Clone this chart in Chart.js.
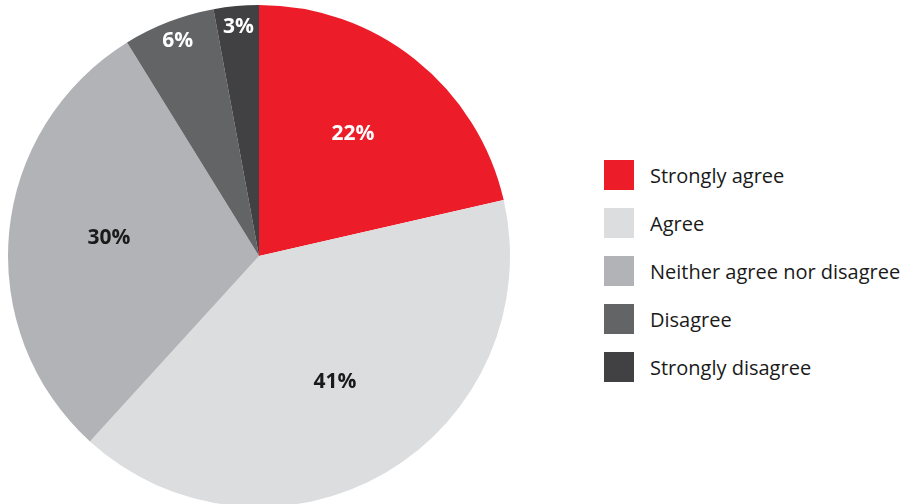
<!DOCTYPE html>
<html>
<head>
<meta charset="utf-8">
<script src="https://cdn.jsdelivr.net/npm/chart.js@4.4.0/dist/chart.umd.min.js"></script>
<style>
    html, body { margin: 0; padding: 0; background: #fff; overflow: hidden; }
    #wrap { position: relative; width: 906px; height: 504px; }
    #pieBox { position: absolute; left: 0; top: 0; width: 520px; height: 512px; }
    #legend { position: absolute; left: 604px; top: 160px; font-family: "Open Sans", sans-serif; font-size: 20px; color: #1a1a1a; }
    .item { display: flex; align-items: center; height: 30px; margin-bottom: 18px; white-space: nowrap; }
    .swatch { width: 30px; height: 30px; margin-right: 16px; flex: none; }
</style>
</head>
<body>
<div id="wrap">
    <div id="pieBox"><canvas id="pieChart"></canvas></div>
    <div id="legend"></div>
</div>
<script>
const categories = ['Strongly agree', 'Agree', 'Neither agree nor disagree', 'Disagree', 'Strongly disagree'];
const shares = [21.4, 40.3, 29.4, 5.9, 2.9];
const shareLabels = ['22%', '41%', '30%', '6%', '3%'];
const sliceColors = ['#ed1c29', '#dcdddf', '#b1b3b6', '#636466', '#414042'];
const labelColors = ['#ffffff', '#1a1a1a', '#1a1a1a', '#ffffff', '#ffffff'];

// draw the percent labels inside the slices
const sliceLabels = {
    id: 'sliceLabels',
    afterDatasetsDraw(chart) {
        const ctx = chart.ctx;
        const arcs = chart.getDatasetMeta(0).data;
        ctx.save();
        ctx.font = 'bold 21px "Open Sans", sans-serif';
        ctx.textAlign = 'center';
        ctx.textBaseline = 'middle';
        arcs.forEach((arc, i) => {
            const mid = (arc.startAngle + arc.endAngle) / 2;
            const frac = shares[i] < 10 ? 0.9 : 0.6;
            const r = arc.outerRadius * frac;
            ctx.fillStyle = labelColors[i];
            ctx.fillText(shareLabels[i], arc.x + Math.cos(mid) * r, arc.y + Math.sin(mid) * r - 4);
        });
        ctx.restore();
    }
};

const ctx = document.getElementById('pieChart').getContext('2d');
const pieChart = new Chart(ctx, {
    type: 'pie',
    data: {
        labels: categories,
        datasets: [{
            data: shares,
            backgroundColor: sliceColors,
            borderWidth: 0,
            hoverOffset: 0
        }]
    },
    options: {
        responsive: true,
        maintainAspectRatio: false,
        animation: false,
        layout: { padding: { left: 8, right: 10, top: 5, bottom: 5 } },
        plugins: {
            legend: { display: false },
            tooltip: { enabled: false }
        }
    },
    plugins: [sliceLabels]
});

// legend on the right
const legendDiv = document.getElementById('legend');
let html = '';
categories.forEach((name, i) => {
    html += `<div class="item"><span class="swatch" style="background:${sliceColors[i]}"></span><span>${name}</span></div>`;
});
legendDiv.innerHTML = html;
</script>
</body>
</html>
